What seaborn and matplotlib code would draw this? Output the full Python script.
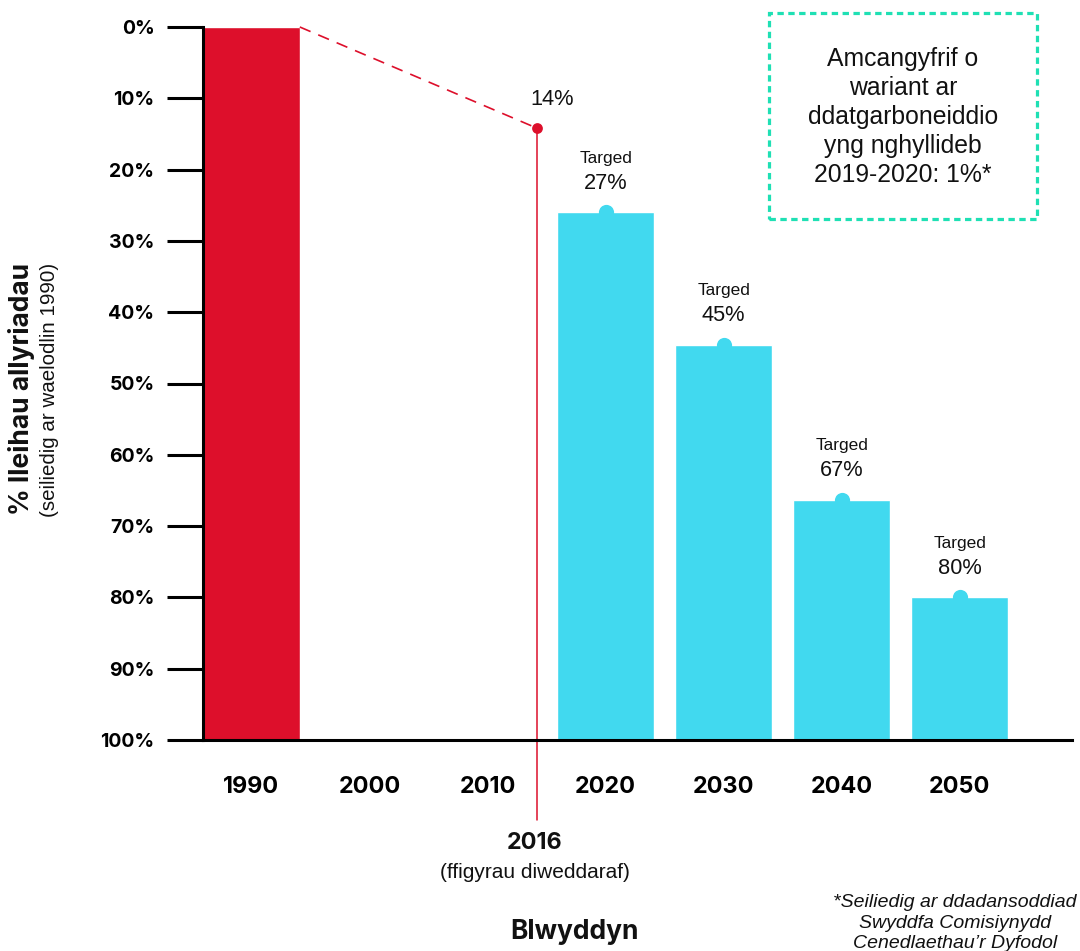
import pandas as pd
import matplotlib.pyplot as plt
import seaborn as sns
from matplotlib.patches import Rectangle

# data
years = ["1990", "2000", "2010", "2020", "2030", "2040", "2050"]
bar_years = ["1990", "2020", "2030", "2040", "2050"]
reduction = [0, 26, 44.6, 66.3, 80]          # % reduction vs 1990 (bar tops)
target_labels = ["27%", "45%", "67%", "80%"]
latest_year_label = "2016"
latest_reduction = 14.2
latest_text = "14%"

RED = "#DD0F2B"
CYAN = "#41D9EF"
TEAL = "#1FE0B4"
INK = "#111111"

sns.set_style("white")
plt.rcParams["font.family"] = ["Liberation Sans", "DejaVu Sans"]
plt.rcParams["text.color"] = INK
plt.rcParams["xtick.color"] = "black"
plt.rcParams["ytick.color"] = "black"
BOLD = ["Inter", "Liberation Sans", "DejaVu Sans"]

df = pd.DataFrame({"year": bar_years, "reduction": reduction})
df["remaining"] = 100 - df["reduction"]
palette = {y: (RED if y == "1990" else CYAN) for y in bar_years}

fig = plt.figure(figsize=(10.8, 9.51), dpi=100)
ax = fig.add_axes([203 / 1080, 1 - 740 / 951, 869 / 1080, 713 / 951])

sns.barplot(data=df, x="year", y="remaining", order=years, hue="year",
            palette=palette, width=0.82, errorbar=None, legend=False,
            saturation=1, ax=ax, zorder=2)

ax.set_xlim(-0.41, 6.95)
ax.set_ylim(0, 100)

# dots on top of the target bars
pos = {y: i for i, y in enumerate(years)}
tx = [pos[y] for y in bar_years[1:]]
ty = list(df["remaining"][1:])
ax.scatter(tx, ty, s=120, color=CYAN, zorder=3, linewidths=0)
for x, y, lab in zip(tx, ty, target_labels):
    ax.annotate("Targed", (x, y), xytext=(0, 39), textcoords="offset points",
                ha="center", va="center", fontsize=12.4)
    ax.annotate(lab, (x, y), xytext=(0, 21), textcoords="offset points",
                ha="center", va="center", fontsize=15.7)

# latest figures marker (2016)
x16 = 2.42
ax.plot([0.41, x16], [100, 100 - latest_reduction], color=RED, lw=1.2,
        dashes=(7, 5), zorder=3, clip_on=False)
ax.plot([x16, x16], [100 - latest_reduction, -11.2], color=RED, lw=1.1,
        zorder=3, clip_on=False)
ax.scatter([x16], [100 - latest_reduction], s=60, color=RED, zorder=4,
           linewidths=0)
ax.text(x16 + 0.13, 100 - 10.2, latest_text, ha="center", va="center",
        fontsize=15.7)

# axes styling
ax.set_yticks(range(0, 101, 10))
ax.set_yticklabels([f"{100 - v}%" for v in range(0, 101, 10)],
                   fontsize=14, fontweight="bold", family=BOLD)
ax.tick_params(axis="y", left=True, length=26, width=2.2, pad=9)
ax.tick_params(axis="x", length=0, pad=26)
for t in ax.get_xticklabels():
    t.set_fontweight("bold")
    t.set_fontsize(16.8)
    t.set_family(BOLD)
ax.set_xlabel("")
ax.set_ylabel("")
for s in ["top", "right"]:
    ax.spines[s].set_visible(False)
for s in ["left", "bottom"]:
    ax.spines[s].set_linewidth(2.2)
    ax.spines[s].set_color("black")
    ax.spines[s].set_zorder(5)

# text outside the axes
fig.text(535 / 1080, 1 - 843 / 951, latest_year_label, ha="center",
         va="center", fontsize=16.8, fontweight="bold", family=BOLD)
fig.text(535 / 1080, 1 - 872 / 951, "(ffigyrau diweddaraf)", ha="center",
         va="center", fontsize=15)
fig.text(575 / 1080, 1 - 932 / 951, "Blwyddyn", ha="center", va="center",
         fontsize=19, fontweight="bold", family=BOLD)
fig.text(22 / 1080, 1 - 389 / 951, "% lleihau allyriadau", rotation=90,
         ha="center", va="center", fontsize=19, fontweight="bold",
         family=BOLD)
fig.text(50 / 1080, 1 - 390 / 951, "(seiliedig ar waelodlin 1990)",
         rotation=90, ha="center", va="center", fontsize=14.8)

# note box
box = Rectangle((769 / 1080, 1 - 219 / 951), 268 / 1080, 206 / 951,
                transform=fig.transFigure, fill=False, edgecolor=TEAL,
                lw=2.3, linestyle=(0, (2, 1.4)))
fig.add_artist(box)
fig.text(903 / 1080, 1 - 117 / 951,
         "Amcangyfrif o\nwariant ar\nddatgarboneiddio\nyng nghyllideb\n2019-2020: 1%*",
         ha="center", va="center", fontsize=17.8, linespacing=1.27)

fig.text(955 / 1080, 1 - 923 / 951,
         "*Seiliedig ar ddadansoddiad\nSwyddfa Comisiynydd\nCenedlaethau\u2019r Dyfodol",
         ha="center", va="center", fontsize=14, style="italic",
         linespacing=1.27)

fig.savefig("out.png", dpi=100)
